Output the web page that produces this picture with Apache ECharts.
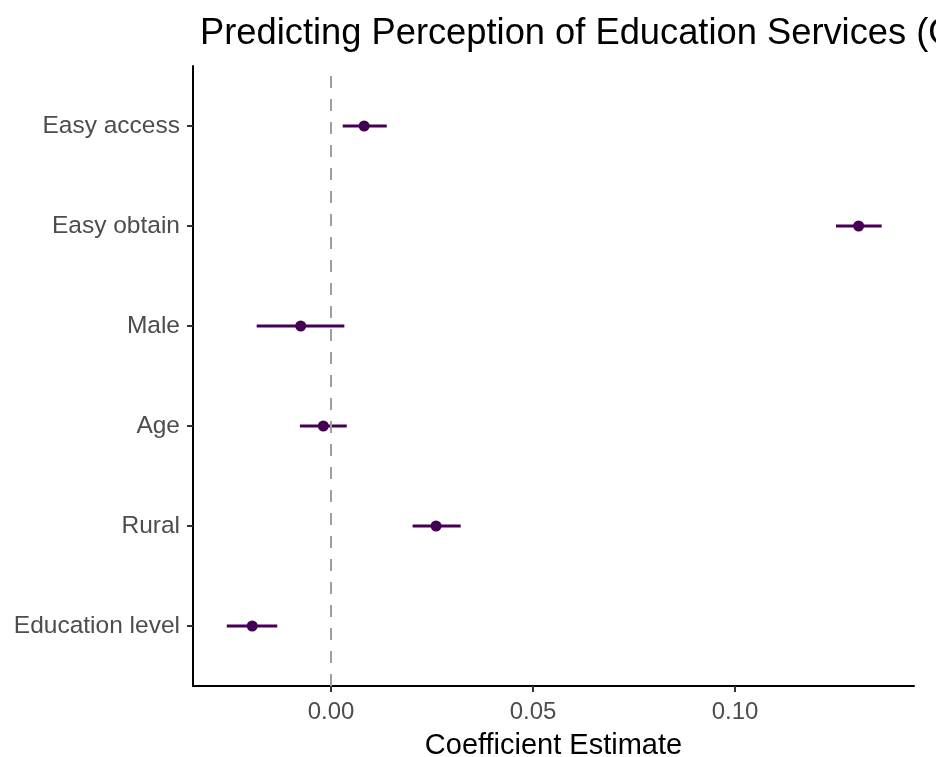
<!DOCTYPE html>
<html>
<head>
<meta charset="utf-8">
<script src="https://cdn.jsdelivr.net/npm/echarts@6/dist/echarts.min.js"></script>
<style>
  html, body { margin: 0; padding: 0; background: #fff; overflow: hidden; }
  #chart { width: 936px; height: 757px; }
</style>
</head>
<body>
<div id="chart"></div>
<script>
// Predictors, listed bottom to top
const predictors = ['Education level', 'Rural', 'Age', 'Male', 'Easy obtain', 'Easy access'];
// Coefficient estimates and 95% confidence bounds
const estimates = [-0.0195, 0.0260, -0.0019, -0.0075, 0.1306, 0.0082];
const lowerCI   = [-0.0258, 0.0202, -0.0077, -0.0184, 0.1250, 0.0029];
const upperCI   = [-0.0133, 0.0321, 0.0039, 0.0033, 0.1363, 0.0138];
// x-axis tick positions
const xTicks = [0, 0.05, 0.10];

const FONT = '"Liberation Sans", Arial, Helvetica, sans-serif';
const PURPLE = '#440154';

const yPos = predictors.map((_, i) => i + 1);
const pointData = estimates.map((v, i) => [v, yPos[i]]);
const ciData = estimates.map((_, i) => [lowerCI[i], upperCI[i], yPos[i]]);

const chart = echarts.init(document.getElementById('chart'), null, { renderer: 'canvas' });

chart.setOption({
  animation: false,
  backgroundColor: '#ffffff',
  title: {
    text: 'Predicting Perception of Education Services (OLS)',
    left: 195,
    top: 11,
    textStyle: { fontFamily: FONT, fontSize: 36.3, fontWeight: 'normal', color: '#000' }
  },
  // fixed panel; keep the axis name from shrinking it
  grid: { left: 193, width: 721, top: 66, height: 620, containLabel: false, outerBoundsMode: 'none' },
  xAxis: {
    type: 'value',
    min: -0.03416,
    max: 0.1443,
    name: 'Coefficient Estimate',
    nameLocation: 'middle',
    nameGap: 45,
    nameTextStyle: { fontFamily: FONT, fontSize: 29, color: '#000' },
    axisLine: { show: true, onZero: false, lineStyle: { color: '#000', width: 2 } },
    axisTick: { show: true, length: 6, customValues: xTicks, lineStyle: { color: '#333', width: 2 } },
    axisLabel: {
      customValues: xTicks,
      margin: 14,
      fontFamily: FONT, fontSize: 24, color: '#4d4d4d',
      formatter: v => v.toFixed(2)
    },
    splitLine: { show: false }
  },
  yAxis: {
    type: 'value',
    min: 0.4,
    max: 6.6,
    axisLine: { show: true, onZero: false, lineStyle: { color: '#000', width: 2 } },
    axisTick: { show: true, length: 6, customValues: yPos, lineStyle: { color: '#333', width: 2 } },
    axisLabel: {
      customValues: yPos,
      margin: 13,
      fontFamily: FONT, fontSize: 24.5, color: '#4d4d4d',
      formatter: v => predictors[Math.round(v) - 1]
    },
    splitLine: { show: false }
  },
  series: [
    {
      // confidence interval segments
      type: 'custom',
      data: ciData,
      encode: { x: [0, 1], y: 2 },
      z: 2,
      renderItem: function (params, api) {
        const a = api.coord([api.value(0), api.value(2)]);
        const b = api.coord([api.value(1), api.value(2)]);
        return {
          type: 'line',
          shape: { x1: a[0], y1: a[1], x2: b[0], y2: b[1] },
          style: { stroke: PURPLE, lineWidth: 3 }
        };
      },
      markLine: {
        silent: true,
        symbol: 'none',
        label: { show: false },
        lineStyle: { color: '#9e9e9e', type: [12, 11], width: 2 },
        data: [{ xAxis: 0 }]
      }
    },
    {
      type: 'scatter',
      data: pointData,
      symbol: 'circle',
      symbolSize: 11,
      z: 3,
      itemStyle: { color: PURPLE, opacity: 1 }
    }
  ]
});
</script>
</body>
</html>
